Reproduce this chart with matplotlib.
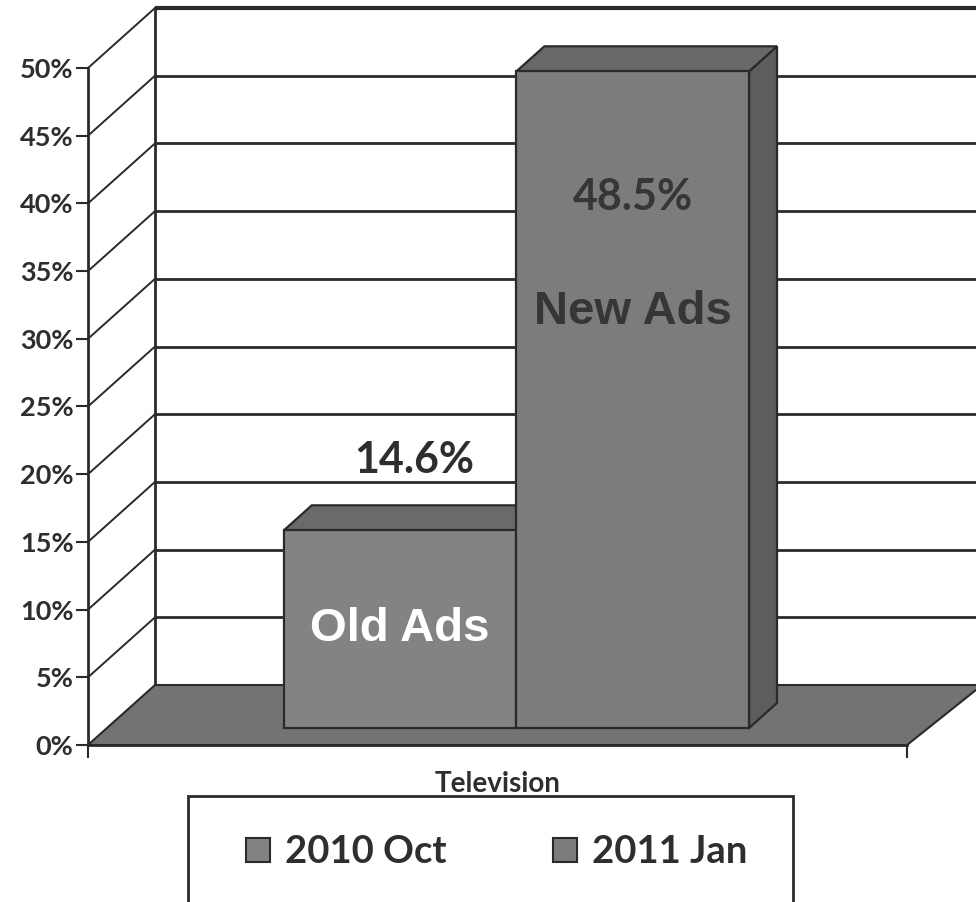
import numpy as np
import matplotlib.pyplot as plt
from matplotlib.patches import Polygon, Rectangle
from matplotlib.lines import Line2D

# data
series = ["2010 Oct", "2011 Jan"]
values = [14.6, 48.5]
bar_names = ["Old Ads", "New Ads"]
category = "Television"
yticks = list(range(0, 55, 5))

# greys
face_colors = ["#838383", "#7c7c7c"]
top_colors = ["#6a6a6a", "#686868"]
side_color = "#5d5d5d"
floor_color = "#737373"
edge = "#2a2a2a"
text_dark = "#2e2e2e"

# oblique depth vector: x in category units, y in percent
DX, DY = 0.0818, 4.43


def proj(x, y, d):
    return x + d * DX, y + d * DY


fig = plt.figure(figsize=(9.76, 9.02), dpi=100)
ax = fig.add_axes([88 / 976, 157 / 902, 819 / 976, 677 / 902])
ax.set_xlim(0, 1)
ax.set_ylim(0, 50)

# back wall gridlines
for t in yticks:
    x0, y0 = proj(0, t, 1)
    x1, y1 = proj(1.01, t, 1)
    lw = 3 if t == 50 else 2
    ax.plot([x0, x1], [y0, y1], color=edge, lw=lw, zorder=1, clip_on=False,
            solid_capstyle="butt")
bx, by0 = proj(0, 0, 1)
_, by1 = proj(0, 50, 1)
ax.plot([bx, bx], [by0, by1], color=edge, lw=2, zorder=1, clip_on=False)

# side wall diagonals
for t in yticks[1:]:
    p0, p1 = proj(0, t, 0), proj(0, t, 1)
    ax.plot([p0[0], p1[0]], [p0[1], p1[1]], color=edge, lw=1.4, zorder=1,
            clip_on=False)

# floor
floor = Polygon([proj(0, 0, 0), proj(1, 0, 0), proj(1.01, 0, 1), proj(0, 0, 1)],
                closed=True, facecolor=floor_color, edgecolor=edge, lw=1.5,
                zorder=2, clip_on=False)
ax.add_patch(floor)

# bars
bar_w = 0.284
lefts = 0.5 + (np.arange(len(values)) - 1) * bar_w
d0, d1 = 0.283, 0.70
for i, (L, v) in enumerate(zip(lefts, values)):
    R = L + bar_w
    side = [proj(R, 0, d0), proj(R, 0, d1), proj(R, v, d1), proj(R, v, d0)]
    top = [proj(L, v, d0), proj(R, v, d0), proj(R, v, d1), proj(L, v, d1)]
    front = [proj(L, 0, d0), proj(R, 0, d0), proj(R, v, d0), proj(L, v, d0)]
    for pts, fc in [(side, side_color), (top, top_colors[i]), (front, face_colors[i])]:
        ax.add_patch(Polygon(pts, closed=True, facecolor=fc, edgecolor=edge,
                             lw=1.6, zorder=3 + i, clip_on=False))

# labels on the bars
cx_old = lefts[0] + bar_w / 2 + d0 * DX
ax.text(cx_old + 0.5 * (d1 - d0) * DX, values[0] + d1 * DY + 1.9,
        f"{values[0]}%", ha="center", va="bottom", fontsize=31,
        fontfamily="Lato", fontweight="bold", color=text_dark, zorder=10)
ax.text(cx_old, values[0] / 2 + d0 * DY, bar_names[0], ha="center",
        va="center", fontsize=34, fontfamily="Liberation Sans",
        fontweight="bold", color="white", zorder=10)

cx_new = lefts[1] + bar_w / 2 + d0 * DX
top_new = values[1] + d0 * DY
ax.text(cx_new, top_new - 9.25, f"{values[1]}%", ha="center", va="center",
        fontsize=31, fontfamily="Lato", fontweight="bold", color="#363636",
        zorder=10)
ax.text(cx_new, top_new - 17.75, bar_names[1], ha="center", va="center",
        fontsize=34, fontfamily="Liberation Sans", fontweight="bold",
        color="#363636", zorder=10)

# axes
for s in ["top", "right"]:
    ax.spines[s].set_visible(False)
for s in ["left", "bottom"]:
    ax.spines[s].set_color(edge)
    ax.spines[s].set_linewidth(2)
    ax.spines[s].set_zorder(2.5)
ax.set_yticks(yticks)
ax.set_yticklabels([f"{t}%" for t in yticks], fontfamily="Lato",
                   fontweight="bold", color=text_dark)
ax.tick_params(axis="y", length=8.5, width=1.5, color=edge, labelsize=19.5, pad=2)
ax.set_xticks([0, 1])
ax.set_xticklabels(["", ""])
ax.tick_params(axis="x", which="major", length=9, width=1.5, color=edge)
ax.set_xticks([0.5], minor=True)
ax.set_xticklabels([category], minor=True, fontfamily="Lato",
                   fontweight="bold", color=text_dark)
ax.tick_params(axis="x", which="minor", length=0, labelsize=20, pad=19)

# legend
handles = [Line2D([], [], marker="s", linestyle="none", markersize=17,
                  markerfacecolor=face_colors[i], markeredgecolor=edge,
                  markeredgewidth=1.5) for i in range(len(series))]
leg = fig.legend(handles, series, loc="center", bbox_to_anchor=(495 / 976, 50 / 902),
                 ncol=2, frameon=False, handletextpad=0.3, columnspacing=2.7,
                 handlelength=0.8,
                 prop={"family": "Lato", "weight": "bold", "size": 27.5})
for t in leg.get_texts():
    t.set_color(text_dark)
fig.add_artist(Rectangle((188 / 976, -0.05), 605 / 976, 106 / 902 + 0.05,
                         transform=fig.transFigure, fill=False, edgecolor=edge,
                         lw=2))

fig.savefig("out.png", dpi=100, facecolor="white")
